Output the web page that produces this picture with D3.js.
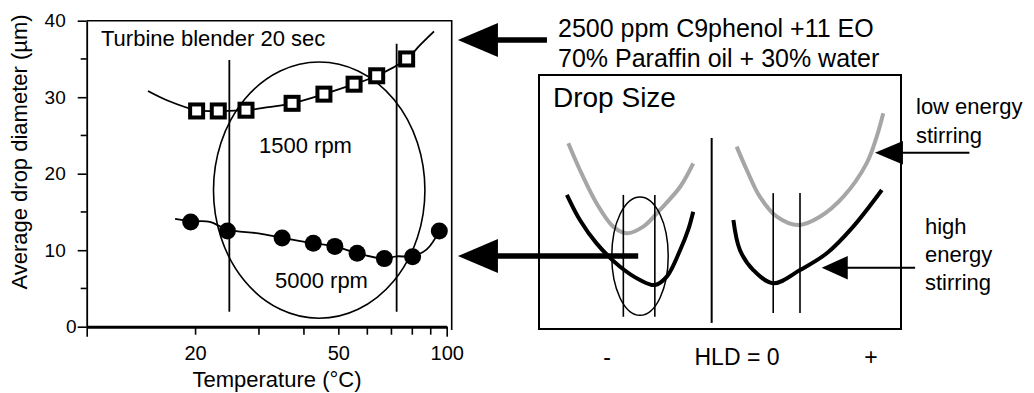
<!DOCTYPE html>
<html><head><meta charset="utf-8">
<script src="https://cdn.jsdelivr.net/npm/d3@7"></script>
<style>body{margin:0;background:#fff}svg{display:block}text{font-family:"Liberation Sans",Arial,sans-serif;fill:#000}</style>
</head><body>
<script>
// ---------- Left chart data ----------
const temps1500 = [20.2, 23.2, 27.7, 37.2, 45.6, 55.3, 63.9, 77.4];
const drop1500  = [28.2, 28.2, 28.3, 29.2, 30.4, 31.7, 32.8, 35.0];
const temps5000 = [19.45, 24.6, 34.9, 42.6, 48.9, 56.4, 67.1, 80.4, 95.4];
const drop5000  = [13.7, 12.5, 11.6, 10.9, 10.5, 9.6, 8.9, 9.15, 12.5];
const fit1500T = [14.8, 16.7, 20.2, 23.2, 27.7, 32, 37.2, 45.6, 55.3, 63.9, 77.4, 84.3, 92.2];
const fit1500D = [30.8, 29.6, 28.3, 28.2, 28.3, 28.7, 29.2, 30.4, 31.7, 32.8, 35.0, 36.8, 38.6];
const fit5000T = [17.6, 19.45, 22, 24.6, 30, 34.9, 42.6, 48.9, 56.4, 67.1, 72.5, 80.4, 88, 95.4];
const fit5000D = [14.1, 13.8, 13.7, 12.7, 12.2, 11.6, 10.9, 10.5, 9.6, 8.9, 9.2, 9.2, 10.1, 12.5];
const xTickValues = [10, 20, 30, 40, 50, 60, 70, 80, 90, 100];
const xTickLabels = ["20", "50", "100"];
const yTickValues = [0, 10, 20, 30, 40];
const yMinorTicks = [5, 15, 25, 35];
const vLinesT = [24.9, 72.6];
const vLinesTop = [34.86, 37.0];
const vLinesBottom = 1.96;
const ellipseT = [22.5, 87.0];
const ellipseD = [1.1, 34.6];

// ---------- Schematic (right panel) data, arbitrary units 0..100 ----------
const grayLeftU  = [8.1, 11.3, 15.9, 20.5, 24.2, 28.8, 33.4, 39.0, 42.6];
const grayLeftV  = [73.1, 62.6, 49.5, 40.3, 37.7, 40.3, 46.9, 56.0, 65.2];
const blackLeftU = [7.7, 11.3, 15.9, 22.4, 27.9, 32.0, 35.3, 39.0, 41.2, 42.6];
const blackLeftV = [52.8, 42.9, 33.7, 24.5, 19.3, 17.3, 20.6, 31.1, 39.0, 46.2];
const grayRightU  = [54.6, 57.4, 61.0, 65.7, 71.6, 77.6, 84.1, 90.5, 93.3, 95.1];
const grayRightV  = [71.8, 62.6, 52.1, 44.2, 40.9, 44.2, 52.1, 65.2, 75.7, 84.9];
const blackRightU = [53.7, 55.5, 59.2, 64.7, 72.1, 79.5, 86.8, 94.7];
const blackRightV = [42.9, 31.1, 23.2, 18.0, 23.2, 29.8, 40.3, 54.7];
const schemVLinesU   = [23.3, 32.0, 47.7, 64.7, 72.1];
const schemVLinesTop = [52.8, 52.8, 75.2, 53.5, 53.5];
const schemVLinesBot = [4.8, 4.8, 2.4, 6.3, 6.3];
const schemEllipse = {u: 27.9, v: 28.7, ru: 7.8, rv: 23.3};
const arrowTipsU  = [-22.4, -22.4, 92.8, 78.1];
const arrowTipsV  = [113.8, 28.7, 69.4, 24.1];
const arrowTailsU = [2.2, 27.4, 118.9, 103.9];

const W = 1034, H = 393;
const svg = d3.select("body").append("svg").attr("width", W).attr("height", H);
svg.append("rect").attr("width", W).attr("height", H).attr("fill", "#fff");

const x = d3.scaleLog().domain([10, 100]).range([86.7, 446.7]);
const y = d3.scaleLinear().domain([0, 40]).range([326.7, 20.7]);

// frame (top & right)
const frameRight = 451.7;
svg.append("path").attr("d", `M${x(10)},${y(40)}H${frameRight}V330`)
  .attr("fill", "none").attr("stroke", "#000").attr("stroke-width", 1.6);

// x axis
const xAxis = d3.axisBottom(x).tickValues(xTickValues).tickSize(8).tickSizeOuter(0).tickPadding(11)
  .tickFormat(d => xTickLabels.includes(String(d)) ? String(d) : "");
const gx = svg.append("g").attr("transform", `translate(0,${y(0)})`).call(xAxis);
gx.select(".domain").attr("stroke-width", 3);
gx.selectAll(".tick line").attr("stroke-width", 1.6);
gx.selectAll(".tick text").attr("font-size", 20).attr("font-family", "Liberation Sans, Arial, sans-serif");
gx.selectAll(".tick").filter(d => d === 10 || d === 100).select("line").attr("y2", 10);

// y axis
const yAxis = d3.axisLeft(y).tickValues(yTickValues).tickSize(9).tickSizeOuter(0).tickPadding(12);
const gy = svg.append("g").attr("transform", `translate(${x(10)},0)`).call(yAxis);
gy.select(".domain").attr("stroke-width", 1.8);
gy.selectAll(".tick line").attr("stroke-width", 1.6);
gy.selectAll(".tick text").attr("font-size", 19).attr("font-family", "Liberation Sans, Arial, sans-serif");
gy.selectAll(".tick").filter(d => d === 0).select("text").attr("x", -10);
gy.selectAll(".minor").data(yMinorTicks).enter().append("line")
  .attr("x1", -6).attr("x2", 0).attr("y1", d => y(d)).attr("y2", d => y(d))
  .attr("stroke", "#000").attr("stroke-width", 1.6);

// axis titles
svg.append("text").attr("x", 277).attr("y", 387).attr("text-anchor", "middle")
  .attr("font-size", 22).text("Temperature (°C)");
svg.append("text").attr("transform", "translate(27,152) rotate(-90)").attr("text-anchor", "middle")
  .attr("font-size", 22).text("Average drop diameter (µm)");

// annotations inside chart
svg.append("text").attr("x", 101).attr("y", 45.7).attr("font-size", 22).text("Turbine blender 20 sec");
svg.append("text").attr("x", 259).attr("y", 153).attr("font-size", 22).text("1500 rpm");
svg.append("text").attr("x", 275).attr("y", 288).attr("font-size", 22).text("5000 rpm");

// vertical lines
svg.selectAll(".vl").data(vLinesT).enter().append("line")
  .attr("x1", d => x(d)).attr("x2", d => x(d))
  .attr("y1", (d, i) => y(vLinesTop[i])).attr("y2", y(vLinesBottom))
  .attr("stroke", "#000").attr("stroke-width", 1.8);

// ellipse
const ex0 = x(ellipseT[0]), ex1 = x(ellipseT[1]), ey0 = y(ellipseD[0]), ey1 = y(ellipseD[1]);
svg.append("ellipse").attr("cx", (ex0 + ex1) / 2).attr("cy", (ey0 + ey1) / 2)
  .attr("rx", (ex1 - ex0) / 2).attr("ry", (ey0 - ey1) / 2)
  .attr("fill", "none").attr("stroke", "#000").attr("stroke-width", 1.6);

// fitted curves
const line = d3.line().x(d => x(d[0])).y(d => y(d[1])).curve(d3.curveCatmullRom.alpha(0.5));
svg.append("path").attr("d", line(d3.zip(fit1500T, fit1500D)))
  .attr("fill", "none").attr("stroke", "#000").attr("stroke-width", 1.8);
svg.append("path").attr("d", line(d3.zip(fit5000T, fit5000D)))
  .attr("fill", "none").attr("stroke", "#000").attr("stroke-width", 1.8);

// markers
svg.selectAll(".sq").data(d3.zip(temps1500, drop1500)).enter().append("rect")
  .attr("x", d => x(d[0]) - 6.5).attr("y", d => y(d[1]) - 6.5).attr("width", 13).attr("height", 13)
  .attr("fill", "#fff").attr("stroke", "#000").attr("stroke-width", 4);
svg.selectAll(".ci").data(d3.zip(temps5000, drop5000)).enter().append("circle")
  .attr("cx", d => x(d[0])).attr("cy", d => y(d[1])).attr("r", 8.5).attr("fill", "#000");

// ---------- Right schematic ----------
const xs = d3.scaleLinear().domain([0, 100]).range([539, 901]);
const ys = d3.scaleLinear().domain([0, 100]).range([329, 75]);

svg.append("rect").attr("x", xs(0)).attr("y", ys(100)).attr("width", xs(100) - xs(0)).attr("height", ys(0) - ys(100))
  .attr("fill", "none").attr("stroke", "#000").attr("stroke-width", 2);

svg.append("text").attr("x", 553).attr("y", 106.7).attr("font-size", 28).text("Drop Size");

const sline = d3.line().x(d => xs(d[0])).y(d => ys(d[1])).curve(d3.curveCatmullRom.alpha(0.5));
[[grayLeftU, grayLeftV, "#a6a6a6"], [grayRightU, grayRightV, "#a6a6a6"],
 [blackLeftU, blackLeftV, "#000"], [blackRightU, blackRightV, "#000"]].forEach(([u, v, c]) => {
  svg.append("path").attr("d", sline(d3.zip(u, v))).attr("fill", "none")
    .attr("stroke", c).attr("stroke-width", 4).attr("stroke-linejoin", "round");
});

svg.selectAll(".svl").data(schemVLinesU).enter().append("line")
  .attr("x1", d => xs(d)).attr("x2", d => xs(d))
  .attr("y1", (d, i) => ys(schemVLinesTop[i])).attr("y2", (d, i) => ys(schemVLinesBot[i]))
  .attr("stroke", "#000").attr("stroke-width", (d, i) => i === 2 ? 2 : 1.6);

svg.append("ellipse").attr("cx", xs(schemEllipse.u)).attr("cy", ys(schemEllipse.v))
  .attr("rx", xs(schemEllipse.ru) - xs(0)).attr("ry", ys(0) - ys(schemEllipse.rv))
  .attr("fill", "none").attr("stroke", "#000").attr("stroke-width", 1.5);

// arrows
const headLen = [40, 40, 28, 26], headHalf = [17, 17, 11.7, 11.7], lineW = [5.5, 5.5, 2, 2];
arrowTipsU.forEach((tu, i) => {
  const tx = xs(tu), ty = ys(arrowTipsV[i]), ex = xs(arrowTailsU[i]);
  svg.append("line").attr("x1", tx + headLen[i] - 1).attr("x2", ex).attr("y1", ty).attr("y2", ty)
    .attr("stroke", "#000").attr("stroke-width", lineW[i]);
  svg.append("path").attr("d", `M${tx},${ty}L${tx + headLen[i]},${ty - headHalf[i]}L${tx + headLen[i]},${ty + headHalf[i]}Z`)
    .attr("fill", "#000");
});

// texts
svg.append("text").attr("x", 558).attr("y", 37).attr("font-size", 25).text("2500 ppm C9phenol +11 EO");
svg.append("text").attr("x", 558).attr("y", 67).attr("font-size", 25).text("70% Paraffin oil + 30% water");
svg.append("text").attr("x", 916).attr("y", 114).attr("font-size", 22).text("low energy");
svg.append("text").attr("x", 916).attr("y", 143).attr("font-size", 22).text("stirring");
svg.append("text").attr("x", 925).attr("y", 234).attr("font-size", 22).text("high");
svg.append("text").attr("x", 925).attr("y", 262).attr("font-size", 22).text("energy");
svg.append("text").attr("x", 925).attr("y", 290).attr("font-size", 22).text("stirring");
svg.append("text").attr("x", 607).attr("y", 365).attr("text-anchor", "middle").attr("font-size", 23).text("-");
svg.append("text").attr("x", 737).attr("y", 365).attr("text-anchor", "middle").attr("font-size", 23).text("HLD = 0");
svg.append("text").attr("x", 871).attr("y", 365).attr("text-anchor", "middle").attr("font-size", 23).text("+");
</script>
</body></html>
